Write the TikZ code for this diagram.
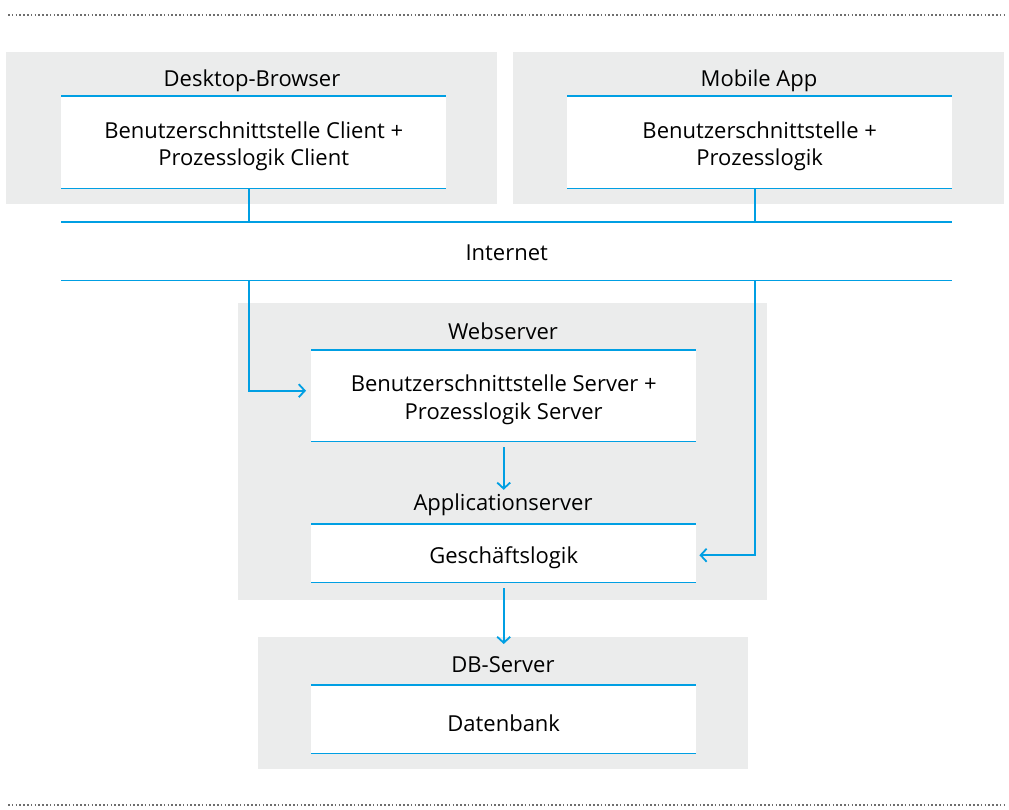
\documentclass[tikz,border=0pt]{standalone}
\usepackage{fontspec}
\setmainfont{Open Sans}
\usetikzlibrary{arrows.meta,calc}

\definecolor{boxgray}{HTML}{EBECEC}
\definecolor{lineblue}{HTML}{009FE3}
\definecolor{dotgray}{HTML}{6E6E6E}

\newcommand{\boxstrut}{\rule{0pt}{25pt}}

\tikzset{
  graybox/.style={fill=boxgray,draw=none,anchor=north west,inner sep=0pt},
  whitebox/.style={fill=white,draw=none,anchor=north west,inner sep=0pt,
    minimum width=385pt,align=center,font=\fontsize{22}{27.5}\selectfont},
  title/.style={font=\fontsize{22}{26}\selectfont,inner sep=0pt},
  topline/.style={lineblue,line width=2.5pt},
  baseline/.style={lineblue,line width=1.2pt},
  link/.style={lineblue,line width=1.8pt},
  arrow/.style={link,-{Straight Barb[length=6pt,width=13pt,line width=1.8pt]}},
  dotline/.style={dotgray,line width=1.6pt,dash pattern=on 1.6pt off 2.2pt}
}

\begin{document}
\begin{tikzpicture}[x=1pt,y=-1pt]
\useasboundingbox (0,0) rectangle (1009,809);

% dotted rules
\coordinate (tl) at (8,15);
\coordinate (tr) at (1004,15);
\coordinate (bl) at (8,805);
\coordinate (br) at (1004,805);
\draw [dotline] (tl) -- (tr) ;
\draw [dotline] (bl) -- (br) ;

% clients
\node [graybox,minimum width=491pt,minimum height=152pt] (desktop) at (6,52) {};
\node [graybox,minimum width=491pt,minimum height=152pt] (mobile) at (513,52) {};
\node [title] (dtitle) at (252,81) {Desktop-Browser};
\node [title] (mtitle) at (759,81) {Mobile App};
\node [whitebox,minimum height=92pt] (dclient) at (61,96)
  {\boxstrut Benutzerschnittstelle Client +\\Prozesslogik Client};
\node [whitebox,minimum height=92pt] (mclient) at (567,96)
  {\boxstrut Benutzerschnittstelle +\\Prozesslogik};

% internet
\node [anchor=north west,minimum width=891pt,minimum height=58pt,inner sep=0pt,
  font=\fontsize{22}{26}\selectfont] (internet) at (61,224) {Internet};

% webserver and applicationserver
\node [graybox,minimum width=529pt,minimum height=297pt] (web) at (238,303) {};
\node [title] (wtitle) at (503,331) {Webserver};
\node [whitebox,minimum height=91pt] (wsbox) at (311,350)
  {\boxstrut Benutzerschnittstelle Server +\\Prozesslogik Server};
\node [title] (atitle) at (503,505) {Applicationserver};
\node [whitebox,minimum height=58pt] (asbox) at (311,524) {\boxstrut Geschäftslogik};

% db server
\node [graybox,minimum width=490pt,minimum height=132pt] (db) at (258,637) {};
\node [title] (dbtitle) at (503,665) {DB-Server};
\node [whitebox,minimum height=68pt] (dbbox) at (311,685) {\boxstrut Datenbank};

% blue rules on the white boxes
\foreach \b in {dclient,mclient,wsbox,asbox,dbbox} {
  \draw [topline] (\b.north west) -- (\b.north east) ;
  \draw [baseline] (\b.south west) -- (\b.south east) ;
}
\draw [topline] ($(internet.north west)+(0,-2)$) -- ($(internet.north east)+(0,-2)$) ;
\draw [baseline] ($(internet.south west)+(0,-2)$) -- ($(internet.south east)+(0,-2)$) ;

% connectors
\draw [link] ($(dclient.south)+(-5,0)$) -- ($(dclient.south |- internet.north)+(-5,-2)$) ;
\draw [link] ($(mclient.south)+(-5,0)$) -- ($(mclient.south |- internet.north)+(-5,-2)$) ;
\draw [arrow] ($(dclient.south |- internet.south)+(-5,-2)$) |- ($(wsbox.west)+(-5,-5)$) ;
\draw [arrow] ($(mclient.south |- internet.south)+(-5,-2)$) |- ($(asbox.east)+(3,2)$) ;
\draw [arrow] ($(wsbox.south)+(0,6)$) -- ($(wsbox.south |- atitle.north)+(0,-4)$) ;
\draw [arrow] ($(asbox.south)+(0,6)$) -- ($(asbox.south |- db.north)+(0,7)$) ;

\end{tikzpicture}
\end{document}
